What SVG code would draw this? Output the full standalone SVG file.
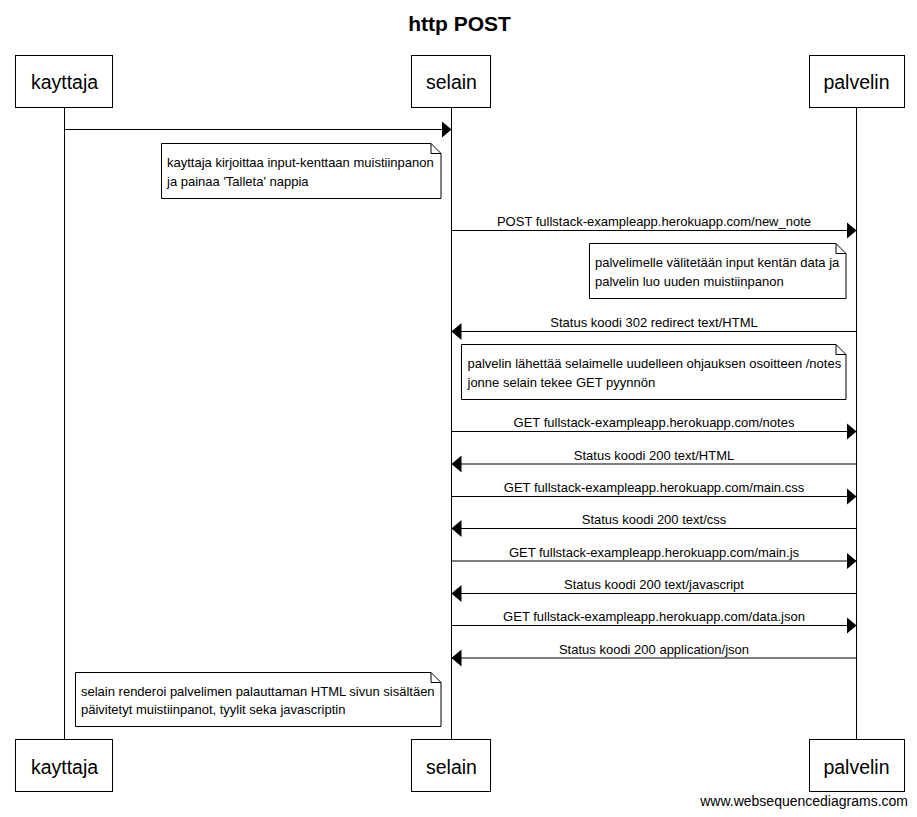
<svg xmlns="http://www.w3.org/2000/svg" width="917" height="817" viewBox="0 0 917 817">
<style>
text{font-family:"Liberation Sans",Arial,sans-serif;fill:#000}
.title{font-size:21px;font-weight:bold;text-anchor:middle}
.part{font-size:19.5px;text-anchor:middle}
.lbl{font-size:13px;text-anchor:middle}
.nt{font-size:13px}
.box{fill:#fff;stroke:#000;stroke-width:1}
.life{stroke:#000;stroke-width:1;fill:none}
.msg{stroke:#000;stroke-width:1;fill:none;marker-end:url(#ah)}
.note{fill:#fff;stroke:#000;stroke-width:1}
.fold{fill:none;stroke:#000;stroke-width:1}
.wm{font-size:14px;text-anchor:end}
</style>
<defs>
<marker id="ah" markerUnits="userSpaceOnUse" markerWidth="10" markerHeight="18" refX="10" refY="9" orient="auto">
<path d="M0,0.5 L10,9 L0,17.5 Z" fill="#000"/>
</marker>
</defs>
<rect width="917" height="817" fill="#fff"/>
<text class="title" x="459.5" y="31">http POST</text>

<g id="lifelines">
<line class="life" x1="64.5" y1="108" x2="64.5" y2="739"/>
<line class="life" x1="451.5" y1="108" x2="451.5" y2="739"/>
<line class="life" x1="856.5" y1="108" x2="856.5" y2="739"/>
</g>

<g id="kayttaja">
<rect class="box" x="15.5" y="55.5" width="97" height="52"/>
<text class="part" x="64.5" y="89">kayttaja</text>
<rect class="box" x="15.5" y="739.5" width="97" height="52"/>
<text class="part" x="64.5" y="774">kayttaja</text>
</g>
<g id="selain">
<rect class="box" x="411.5" y="55.5" width="79" height="52"/>
<text class="part" x="451.5" y="89">selain</text>
<rect class="box" x="411.5" y="739.5" width="79" height="52"/>
<text class="part" x="451.5" y="774">selain</text>
</g>
<g id="palvelin">
<rect class="box" x="809.5" y="55.5" width="95" height="52"/>
<text class="part" x="856.5" y="89">palvelin</text>
<rect class="box" x="809.5" y="739.5" width="95" height="52"/>
<text class="part" x="856.5" y="774">palvelin</text>
</g>

<g id="connectors">
<line class="msg" x1="64.5" y1="129.5" x2="451.5" y2="129.5"/>
<line class="msg" x1="451.5" y1="230.5" x2="856.5" y2="230.5"/>
<text class="lbl" x="654" y="226">POST fullstack-exampleapp.herokuapp.com/new_note</text>
<line class="msg" x1="856.5" y1="331.5" x2="451.5" y2="331.5"/>
<text class="lbl" x="654" y="327">Status koodi 302 redirect text/HTML</text>
<line class="msg" x1="451.5" y1="431.5" x2="856.5" y2="431.5"/>
<text class="lbl" x="654" y="427">GET fullstack-exampleapp.herokuapp.com/notes</text>
<line class="msg" x1="856.5" y1="464" x2="451.5" y2="464"/>
<text class="lbl" x="654" y="459.5">Status koodi 200 text/HTML</text>
<line class="msg" x1="451.5" y1="496.5" x2="856.5" y2="496.5"/>
<text class="lbl" x="654" y="492">GET fullstack-exampleapp.herokuapp.com/main.css</text>
<line class="msg" x1="856.5" y1="528.5" x2="451.5" y2="528.5"/>
<text class="lbl" x="654" y="524">Status koodi 200 text/css</text>
<line class="msg" x1="451.5" y1="561" x2="856.5" y2="561"/>
<text class="lbl" x="654" y="556.5">GET fullstack-exampleapp.herokuapp.com/main.js</text>
<line class="msg" x1="856.5" y1="593.5" x2="451.5" y2="593.5"/>
<text class="lbl" x="654" y="589">Status koodi 200 text/javascript</text>
<line class="msg" x1="451.5" y1="625.5" x2="856.5" y2="625.5"/>
<text class="lbl" x="654" y="621">GET fullstack-exampleapp.herokuapp.com/data.json</text>
<line class="msg" x1="856.5" y1="658" x2="451.5" y2="658"/>
<text class="lbl" x="654" y="653.5">Status koodi 200 application/json</text>
</g>

<g id="note1">
<path class="note" d="M161.5,143.5 H431 L441,153.5 V198.5 H161.5 Z"/>
<path class="fold" d="M431,143.5 V153.5 H441"/>
<text class="nt" x="167" y="167">kayttaja kirjoittaa input-kenttaan muistiinpanon</text>
<text class="nt" x="167" y="185.5">ja painaa 'Talleta' nappia</text>
</g>
<g id="note2">
<path class="note" d="M589.5,243.5 H836 L846,253.5 V298.5 H589.5 Z"/>
<path class="fold" d="M836,243.5 V253.5 H846"/>
<text class="nt" x="595" y="267">palvelimelle välitetään input kentän data ja</text>
<text class="nt" x="595" y="285.5">palvelin luo uuden muistiinpanon</text>
</g>
<g id="note3">
<path class="note" d="M461.5,344.5 H836 L846,354.5 V399.5 H461.5 Z"/>
<path class="fold" d="M836,344.5 V354.5 H846"/>
<text class="nt" x="467.5" y="368">palvelin lähettää selaimelle uudelleen ohjauksen osoitteen /notes</text>
<text class="nt" x="467.5" y="386.5">jonne selain tekee GET pyynnön</text>
</g>
<g id="note4">
<path class="note" d="M75.5,672.5 H431 L441,682.5 V726.5 H75.5 Z"/>
<path class="fold" d="M431,672.5 V682.5 H441"/>
<text class="nt" x="81" y="695.5">selain renderoi palvelimen palauttaman HTML sivun sisältäen</text>
<text class="nt" x="81" y="714">päivitetyt muistiinpanot, tyylit seka javascriptin</text>
</g>

<text class="wm" x="908" y="806">www.websequencediagrams.com</text>
</svg>
